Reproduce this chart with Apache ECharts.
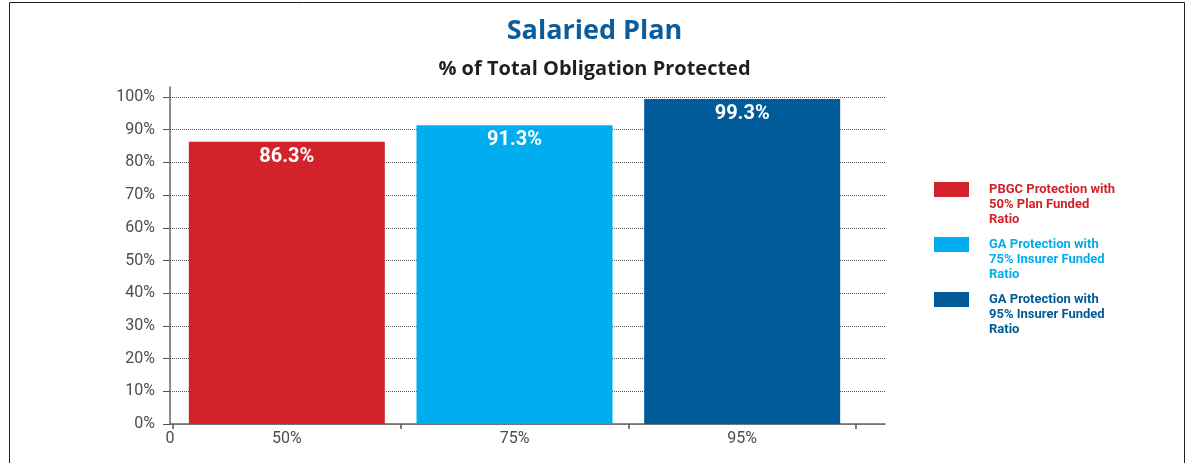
<!DOCTYPE html>
<html>
<head>
<meta charset="utf-8">
<script src="https://cdn.jsdelivr.net/npm/echarts@6/dist/echarts.min.js"></script>
<style>
html,body{margin:0;padding:0;background:#fff;}
#c{width:1189px;height:463px;}
</style>
</head>
<body>
<div id="c"></div>
<script>
const titleText = 'Salaried Plan';
const subtitleText = '% of Total Obligation Protected';
const categories = ['50%', '75%', '95%'];
const seriesNames = [
  'PBGC Protection with\n50% Plan Funded\nRatio',
  'GA Protection with\n75% Insurer Funded\nRatio',
  'GA Protection with\n95% Insurer Funded\nRatio'
];
const seriesValues = [86.3, 91.3, 99.3];
const colors = ['#d2232a', '#00aeef', '#005b98'];
const yTicks = [0, 10, 20, 30, 40, 50, 60, 70, 80, 90, 100];

const FONT = 'Roboto, "Noto Sans", sans-serif';
const TFONT = '"Open Sans", Roboto, sans-serif';
const chart = echarts.init(document.getElementById('c'), null, {renderer: 'canvas'});

const series = seriesNames.map((name, i) => ({
  name: name,
  type: 'bar',
  xAxisIndex: 1,
  yAxisIndex: 1,
  barWidth: 196,
  barGap: '-100%',
  itemStyle: {color: colors[i]},
  data: categories.map((c, j) => (j === i ? seriesValues[i] : '-')),
  label: {
    show: true,
    position: 'insideTop',
    distance: 5,
    color: '#ffffff',
    fontFamily: FONT,
    fontSize: 20,
    fontWeight: 'bold',
    formatter: p => p.value + '%'
  }
}));

chart.setOption({
  animation: false,
  backgroundColor: '#ffffff',
  title: [
    {text: titleText, left: 'center', top: 13,
     textStyle: {color: '#0a5c9c', fontFamily: TFONT, fontSize: 27, fontWeight: 'bold'}},
    {text: subtitleText, left: 'center', top: 54,
     textStyle: {color: '#231f20', fontFamily: TFONT, fontSize: 20, fontWeight: 'bold'}}
  ],
  graphic: [{
    type: 'rect', silent: true,
    shape: {x: 9.5, y: 2.5, width: 1175, height: 500},
    style: {fill: 'none', stroke: '#231f20', lineWidth: 1}
  }],
  legend: {
    orient: 'vertical',
    left: 934,
    top: 152,
    padding: 0,
    itemWidth: 35,
    itemHeight: 15,
    itemGap: -20,
    icon: 'rect',
    selectedMode: false,
    formatter: n => '\n\n' + n,
    textStyle: {fontFamily: FONT, fontSize: 13, fontWeight: 'bold', lineHeight: 15, padding: [0, 0, 0, 15]},
    data: seriesNames.map((n, i) => ({name: n, textStyle: {color: colors[i]}}))
  },
  grid: [
    {left: 170, top: 97, right: 304, bottom: 39},
    {left: 173, top: 87, right: 333, bottom: 39},
    {left: 170, top: 87, right: 1018, bottom: 39}
  ],
  xAxis: [
    {
      gridIndex: 0, type: 'value', min: 0, max: 1, interval: 1,
      axisLine: {show: true, lineStyle: {color: '#666', width: 1.5}},
      axisTick: {show: false},
      splitLine: {show: false},
      axisLabel: {color: '#4d4d4d', fontFamily: FONT, fontSize: 16, margin: 7,
                  formatter: v => (v === 0 ? '0' : '')}
    },
    {
      gridIndex: 1, type: 'category', data: categories, boundaryGap: true,
      axisLine: {show: false},
      axisTick: {show: true, length: 5, lineStyle: {color: '#555', width: 1.5}},
      axisLabel: {color: '#4d4d4d', fontFamily: FONT, fontSize: 16, margin: 7}
    },
    {
      gridIndex: 2, type: 'value', show: false
    }
  ],
  yAxis: [
    {
      gridIndex: 0, type: 'value', min: yTicks[0], max: yTicks[yTicks.length - 1], interval: yTicks[1] - yTicks[0],
      axisLine: {show: false},
      axisTick: {show: true, length: 7, lineStyle: {color: '#555'}},
      axisLabel: {color: '#4d4d4d', fontFamily: FONT, fontSize: 16, margin: 15, formatter: '{value}%'},
      splitLine: {show: true, lineStyle: {color: '#555', type: [1, 1], width: 1}}
    },
    {
      gridIndex: 1, type: 'value', min: 0, max: 103,
      axisLine: {show: false},
      axisTick: {show: false},
      axisLabel: {show: false},
      splitLine: {show: false}
    },
    {
      gridIndex: 2, type: 'value', min: 0, max: 103,
      axisLine: {show: true, lineStyle: {color: '#666', width: 1.5}},
      axisTick: {show: false},
      axisLabel: {show: false},
      splitLine: {show: false}
    }
  ],
  series: series
});
</script>
</body>
</html>
